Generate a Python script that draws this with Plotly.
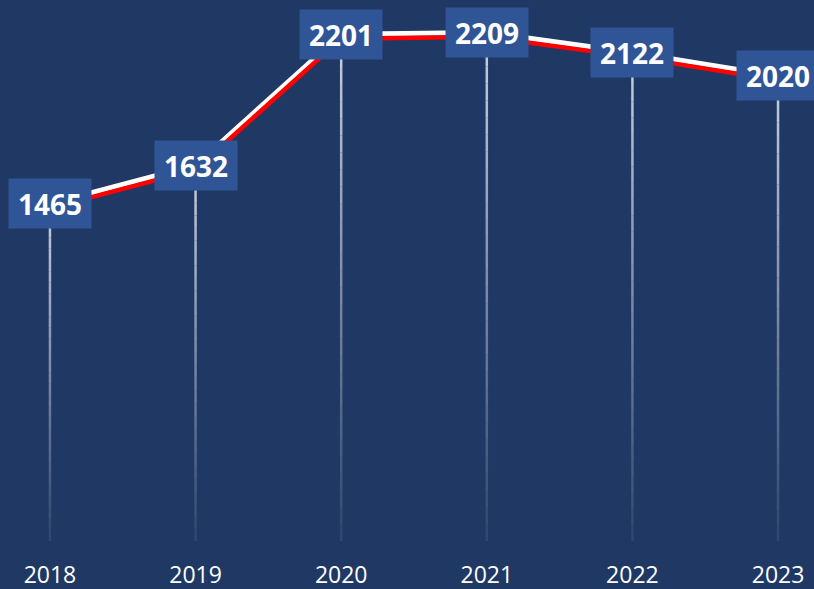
import plotly.graph_objects as go

years = ["2018", "2019", "2020", "2021", "2022", "2023"]
values = [1465, 1632, 2201, 2209, 2122, 2020]

BG = "#203864"
BOX = "#2F5597"
xi = list(range(len(years)))

Y_TOP = 2350
SHIFT = 19  # red shadow offset in data units (~4.5 px)

fig = go.Figure()

# red shadow line (on shifted axis)
fig.add_trace(go.Scatter(x=xi, y=values, mode="lines", yaxis="y2",
                         line=dict(color="#FF0000", width=4.5), hoverinfo="skip"))
# white main line
fig.add_trace(go.Scatter(x=xi, y=values, mode="lines",
                         line=dict(color="#FFFFFF", width=5), hoverinfo="skip"))

# fading drop lines
shapes = []
N = 30
for x, v in zip(xi, values):
    for k in range(N):
        y0 = v * (1 - k / N)
        y1 = v * (1 - (k + 1) / N)
        alpha = 0.8 * (1 - k / N) + 0.06
        shapes.append(dict(type="line", xref="x", yref="y", x0=x, x1=x, y0=y0, y1=y1,
                           line=dict(color=f"rgba(225,232,245,{alpha:.3f})", width=2.5),
                           layer="below"))

annotations = []
for x, v in zip(xi, values):
    annotations.append(dict(x=x, y=v, xref="x", yref="y", text=f"<b>{v}</b>",
                            showarrow=False, xanchor="center", yanchor="middle",
                            width=80, height=47, bgcolor=BOX, align="center", valign="middle",
                            font=dict(family="Open Sans", size=28, color="#FFFFFF")))

fig.update_layout(
    width=814, height=589,
    margin=dict(l=0, r=0, t=0, b=48),
    paper_bgcolor=BG, plot_bgcolor=BG,
    showlegend=False,
    shapes=shapes,
    annotations=annotations,
    xaxis=dict(range=[-0.343, 5.247], tickmode="array", tickvals=xi, ticktext=years,
               showgrid=False, zeroline=False, showline=False,
               ticks="outside", ticklen=13, tickcolor="rgba(0,0,0,0)",
               tickfont=dict(family="Open Sans", size=23, color="#FFFFFF")),
    yaxis=dict(range=[0, Y_TOP], visible=False, showgrid=False, zeroline=False),
    yaxis2=dict(range=[SHIFT, Y_TOP + SHIFT], overlaying="y", visible=False,
                showgrid=False, zeroline=False),
)

fig.write_html("out.html")
